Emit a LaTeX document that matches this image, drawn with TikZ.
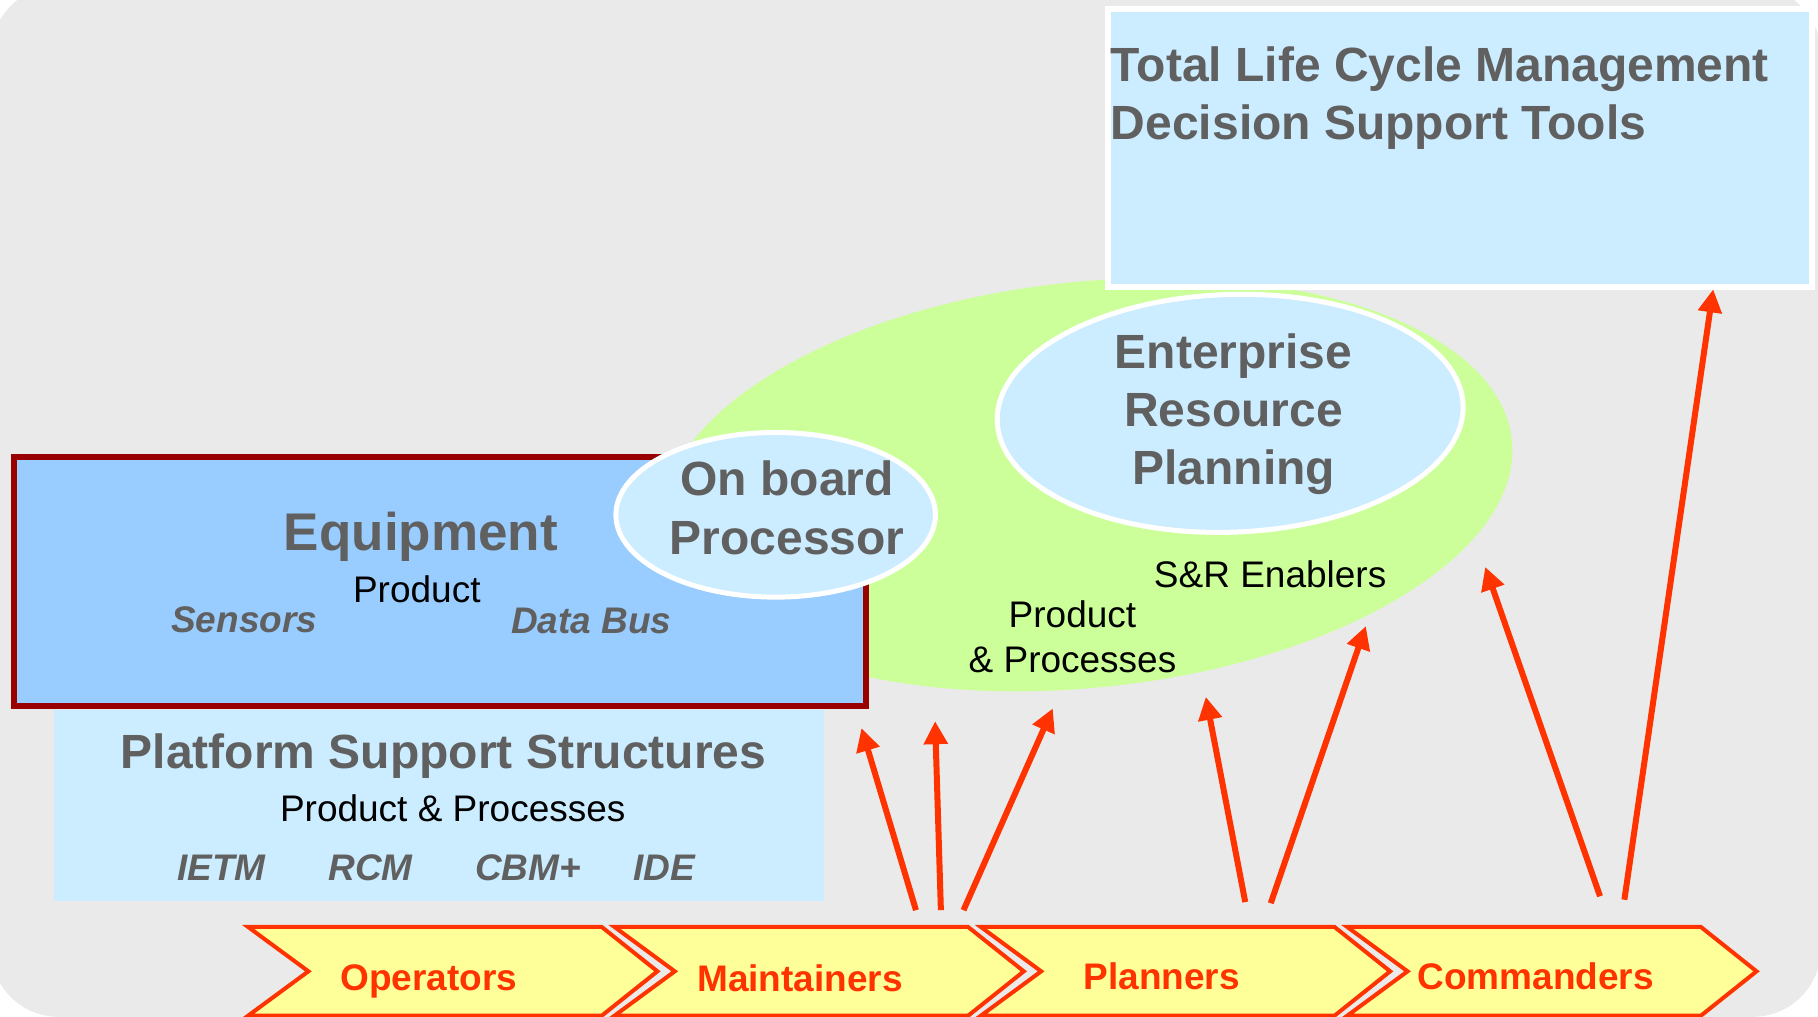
\documentclass[tikz,border=0pt]{standalone}
\usepackage{fontspec}
\setmainfont{Liberation Sans}
\usepackage{tikz}
\usetikzlibrary{
    positioning,
    arrows.meta
}
\definecolor{panelGray}{RGB}{234, 234, 234}
\definecolor{paleBlue}{RGB}{204, 236, 255}
\definecolor{equipBlue}{RGB}{153, 204, 255}
\definecolor{darkRed}{RGB}{153, 0, 0}
\definecolor{limeGreen}{RGB}{204, 255, 153}
\definecolor{paleYellow}{RGB}{255, 255, 153}
\definecolor{signalRed}{RGB}{255, 51, 0}
\definecolor{textGray}{RGB}{96, 96, 96}

\begin{document}
\begin{tikzpicture}[x=1.1594pt, y=-1.1594pt, >={Triangle[length=23pt, width=23pt]},
        headtext/.style={font=\bfseries\fontsize{48}{58}\selectfont, text=textGray, inner sep=0pt},
        bodytext/.style={font=\fontsize{37}{45}\selectfont, text=black, inner sep=0pt},
        tooltext/.style={font=\bfseries\itshape\fontsize{37}{45}\selectfont, text=textGray, inner sep=0pt},
        roletext/.style={font=\bfseries\fontsize{37}{45}\selectfont, text=signalRed, inner sep=0pt},
        flowarrow/.style={->, signalRed, line width=6pt}]
            \useasboundingbox (0,0) rectangle (1568,877);
            \fill[panelGray, rounded corners=68pt] (-8,-12) rectangle (1570.5,877);

            % enterprise area and its parts
            \fill[limeGreen, rotate around={6:(938,418)}] (938,418) ellipse [x radius=368, y radius=175];
            \filldraw[fill=paleBlue, draw=white, line width=6pt] (955.5,7.7) rectangle (1562.8,247.5);
            \filldraw[fill=paleBlue, draw=white, line width=5pt, rotate around={2:(1061,356.5)}]
                (1061,356.5) ellipse [x radius=201, y radius=102.5];
            \fill[paleBlue] (47,612) rectangle (711,777); % platform support
            \filldraw[fill=equipBlue, draw=darkRed, line width=6pt] (12.5,394) rectangle (746.5,609);
            \filldraw[fill=paleBlue, draw=white, line width=5pt] (669,444) ellipse [x radius=137.8, y radius=71];

            \node[headtext, align=left, anchor=west] (tlcm) at (958,84.5)
                {Total Life Cycle Management\\Decision Support Tools};
            \node[headtext, align=center] (erp) at (1064,357) {Enterprise\\Resource\\Planning};
            \node[headtext, align=center, font=\bfseries\fontsize{48}{59}\selectfont] (obp) at (679,438.4)
                {On board\\Processor};
            \node[headtext, font=\bfseries\fontsize{53}{60}\selectfont, anchor=base] (equip) at (363,474.4) {Equipment};
            \node[bodytext, anchor=base] (eqprod) at (359.5,519.5) {Product};
            \node[tooltext, anchor=base] (sensors) at (210.6,545.7) {Sensors};
            \node[tooltext, anchor=base] (databus) at (510,546) {Data Bus};
            \node[bodytext, anchor=base] (enablers) at (1095.5,506.4) {S\&R Enablers};
            \node[bodytext, align=center] (srprod) at (925,549) {Product\\\& Processes};
            \node[headtext, anchor=base] (platform) at (382.5,663) {Platform Support Structures};
            \node[bodytext, anchor=base] (psprod) at (390.5,708.4) {Product \& Processes};
            \node[tooltext, anchor=base] (ietm) at (191,759) {IETM};
            \node[tooltext, anchor=base] (rcm) at (319.5,759) {RCM};
            \node[tooltext, anchor=base] (cbm) at (455.5,759) {CBM+};
            \node[tooltext, anchor=base] (ide) at (573,759) {IDE};

            % user groups
            \foreach \x/\role/\lx/\ly in {214/Operators/370/854, 530/Maintainers/690/855.5,
                    846/Planners/1002/853.5, 1162/Commanders/1324.5/853} {
                \filldraw[fill=paleYellow, draw=signalRed, line width=4pt]
                    (\x,799.5) -- ++(305,0) -- ++(48,38.25) -- ++(-48,38.25) -- ++(-305,0) -- ++(52,-38.25) -- cycle;
                \node[roletext, anchor=base] (\role) at (\lx,\ly) {\role};
            }

            % data flows
            \coordinate (m1) at (790,785);   \coordinate (e1) at (743,628);
            \coordinate (m2) at (811.5,785); \coordinate (e2) at (806.5,622);
            \coordinate (m3) at (831,785);   \coordinate (e3) at (908,611);
            \coordinate (p1) at (1074,778);  \coordinate (e4) at (1040,601);
            \coordinate (p2) at (1096,779);  \coordinate (e5) at (1178,540);
            \coordinate (c1) at (1380,773);  \coordinate (e6) at (1281,489);
            \coordinate (c2) at (1401,776);  \coordinate (e7) at (1477.6,249.5);
            \foreach \a/\b in {m1/e1, m2/e2, m3/e3, p1/e4, p2/e5, c1/e6, c2/e7}
                \draw[flowarrow] (\a) -- (\b);
        \end{tikzpicture}
\end{document}
